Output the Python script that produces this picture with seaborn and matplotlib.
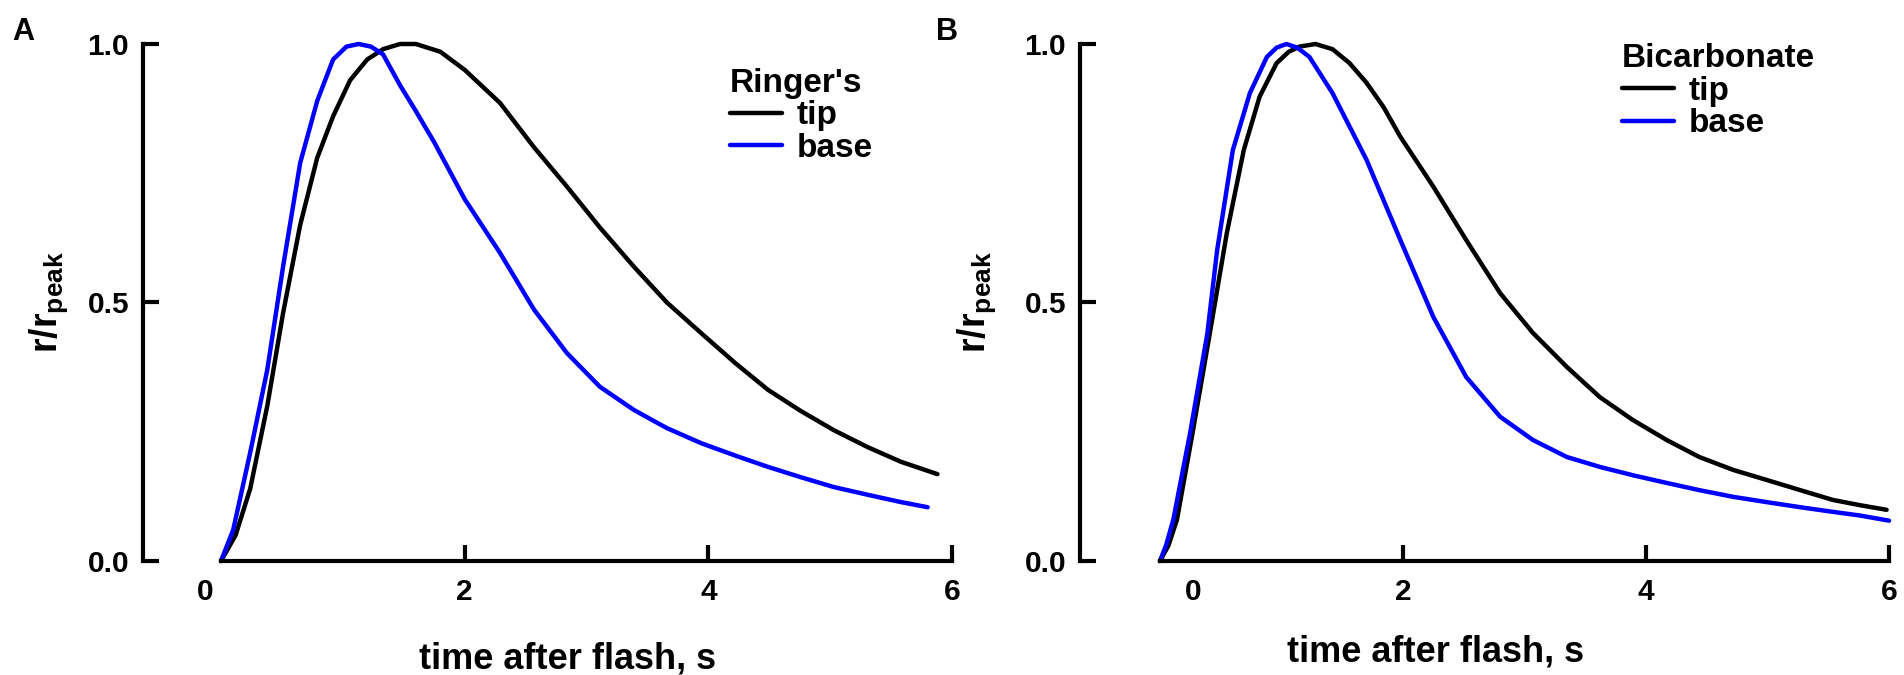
import matplotlib.pyplot as plt
import matplotlib.transforms as mtransforms
import seaborn as sns

# Panel A - Ringer's
ringer_tip_t = [0, 0.12, 0.24, 0.38, 0.51, 0.65, 0.79, 0.92, 1.06, 1.20, 1.33, 1.47, 1.60, 1.80, 2.00,
                2.29, 2.57, 2.84, 3.11, 3.39, 3.66, 3.94, 4.22, 4.49, 4.76, 5.03, 5.31, 5.58, 5.88]
ringer_tip_v = [0, 0.05, 0.14, 0.30, 0.48, 0.65, 0.78, 0.86, 0.93, 0.97, 0.99, 1.0, 1.0, 0.985, 0.95,
                0.886, 0.80, 0.724, 0.645, 0.569, 0.50, 0.441, 0.383, 0.331, 0.290, 0.253, 0.22, 0.192, 0.168]
ringer_base_t = [0, 0.10, 0.24, 0.38, 0.51, 0.65, 0.79, 0.92, 1.03, 1.13, 1.23, 1.33, 1.47, 1.60, 1.75, 2.00,
                 2.29, 2.57, 2.84, 3.11, 3.39, 3.66, 3.94, 4.22, 4.49, 4.76, 5.03, 5.31, 5.58, 5.80]
ringer_base_v = [0, 0.06, 0.21, 0.37, 0.57, 0.77, 0.89, 0.97, 0.995, 1.0, 0.995, 0.98, 0.92, 0.87, 0.81, 0.70,
                 0.596, 0.486, 0.402, 0.337, 0.292, 0.257, 0.228, 0.204, 0.182, 0.162, 0.143, 0.128, 0.114, 0.104]

# Panel B - Bicarbonate
bicarb_tip_t = [0, 0.07, 0.14, 0.27, 0.41, 0.55, 0.69, 0.82, 0.96, 1.06, 1.15, 1.28, 1.42, 1.56, 1.70, 1.84,
                1.98, 2.25, 2.52, 2.80, 3.07, 3.35, 3.62, 3.89, 4.17, 4.44, 4.72, 4.99, 5.27, 5.54, 5.76, 5.98]
bicarb_tip_v = [0, 0.03, 0.08, 0.25, 0.44, 0.634, 0.795, 0.898, 0.963, 0.985, 0.995, 1.0, 0.99, 0.963, 0.925, 0.878,
                0.82, 0.724, 0.621, 0.518, 0.441, 0.375, 0.317, 0.273, 0.234, 0.201, 0.176, 0.157, 0.137, 0.118, 0.108, 0.099]
bicarb_base_t = [0, 0.05, 0.11, 0.25, 0.39, 0.47, 0.60, 0.74, 0.88, 0.96, 1.04, 1.13, 1.23, 1.42, 1.70, 1.98,
                 2.25, 2.52, 2.80, 3.07, 3.35, 3.62, 3.89, 4.17, 4.44, 4.72, 4.99, 5.27, 5.54, 5.76, 6.0]
bicarb_base_v = [0, 0.03, 0.08, 0.25, 0.44, 0.60, 0.795, 0.905, 0.975, 0.993, 1.0, 0.993, 0.975, 0.905, 0.776, 0.62,
                 0.472, 0.356, 0.279, 0.234, 0.201, 0.182, 0.166, 0.151, 0.137, 0.124, 0.114, 0.104, 0.095, 0.088, 0.078]

series_names = ['tip', 'base']
series_colors = ['black', '#0000ff']
x_ticks = [0, 2, 4, 6]
y_ticks = [0, 0.5, 1.0]
y_ticklabels = ['0.0', '0.5', '1.0']

sns.set_style('ticks')
plt.rcParams['font.family'] = ['Liberation Sans', 'DejaVu Sans']
plt.rcParams['font.weight'] = 'bold'
plt.rcParams['mathtext.fontset'] = 'custom'
plt.rcParams['mathtext.rm'] = 'Liberation Sans:bold'
plt.rcParams['mathtext.bf'] = 'Liberation Sans:bold'
plt.rcParams['mathtext.it'] = 'Liberation Sans:bold'
# plain black for all text and axes (seaborn defaults to dark grey)
for key in ['text.color', 'axes.labelcolor', 'xtick.color', 'ytick.color', 'axes.edgecolor']:
    plt.rcParams[key] = 'black'


def draw_panel(ax, curves, title, xmin, zero_shift, xlab_pos, ylab_x, leg_pos):
    for (t, v), name, color in zip(curves, series_names, series_colors):
        sns.lineplot(x=t, y=v, color=color, label=name, lw=3.2, sort=False,
                     ax=ax, clip_on=False)

    ax.set_xlim(xmin, 6)
    ax.set_ylim(0, 1)
    ax.spines[['top', 'right']].set_visible(False)
    ax.spines['left'].set_bounds(0, 1)
    ax.spines['bottom'].set_bounds(0, 6)
    for s in ['left', 'bottom']:
        ax.spines[s].set_linewidth(3)
        ax.spines[s].set_color('black')

    ax.set_xticks(x_ticks)
    ax.set_xticklabels([str(x) for x in x_ticks])
    ax.set_yticks(y_ticks)
    ax.set_yticklabels(y_ticklabels)
    ax.tick_params(direction='in', length=11.5, width=3, labelsize=21.5,
                   color='black', labelcolor='black')
    ax.tick_params(axis='x', pad=12)
    ax.tick_params(axis='y', pad=10)

    # the "0" tick has no mark and its label sits off the axis start
    ticks = ax.xaxis.get_major_ticks()
    ticks[0].tick1line.set_visible(False)
    lab = ticks[0].label1
    lab.set_transform(lab.get_transform() +
                      mtransforms.ScaledTranslation(zero_shift / 100, 0, ax.figure.dpi_scale_trans))

    ax.set_xlabel('time after flash, s', fontsize=26, fontweight='bold', color='black')
    ax.xaxis.set_label_coords(*xlab_pos)
    ax.set_ylabel(r'$\mathbf{r/r_{peak}}$', fontsize=27, color='black')
    ax.yaxis.set_label_coords(ylab_x, 0.5)

    leg = ax.legend(title=title, loc='upper left', bbox_to_anchor=leg_pos, frameon=False,
                    fontsize=24, title_fontproperties={'weight': 'bold', 'size': 24},
                    alignment='left', borderpad=0, borderaxespad=0, handlelength=1.55,
                    handletextpad=0.45, labelspacing=0.05)
    for txt in leg.get_texts():
        txt.set_color('black')
    leg.get_title().set_color('black')


fig = plt.figure(figsize=(19.04, 6.75), dpi=100)
axA = fig.add_axes([0.07511, 0.16889, 0.42490, 0.76593])
axB = fig.add_axes([0.56723, 0.16889, 0.42490, 0.76593])

draw_panel(axA, [(ringer_tip_t, ringer_tip_v), (ringer_base_t, ringer_base_v)], "Ringer's",
           xmin=-0.64, zero_shift=-16, xlab_pos=(0.525, -0.155), ylab_x=-0.090, leg_pos=(0.7256, 0.954))
draw_panel(axB, [(bicarb_tip_t, bicarb_tip_v), (bicarb_base_t, bicarb_base_v)], 'Bicarbonate',
           xmin=-0.658, zero_shift=33, xlab_pos=(0.439, -0.143), ylab_x=-0.101, leg_pos=(0.670, 1.002))

fig.text(23 / 1904, 1 - 32 / 675, 'A', fontsize=22, fontweight='bold', ha='center', va='center')
fig.text(947 / 1904, 1 - 32 / 675, 'B', fontsize=22, fontweight='bold', ha='center', va='center')

fig.savefig('out.png', dpi=100)
